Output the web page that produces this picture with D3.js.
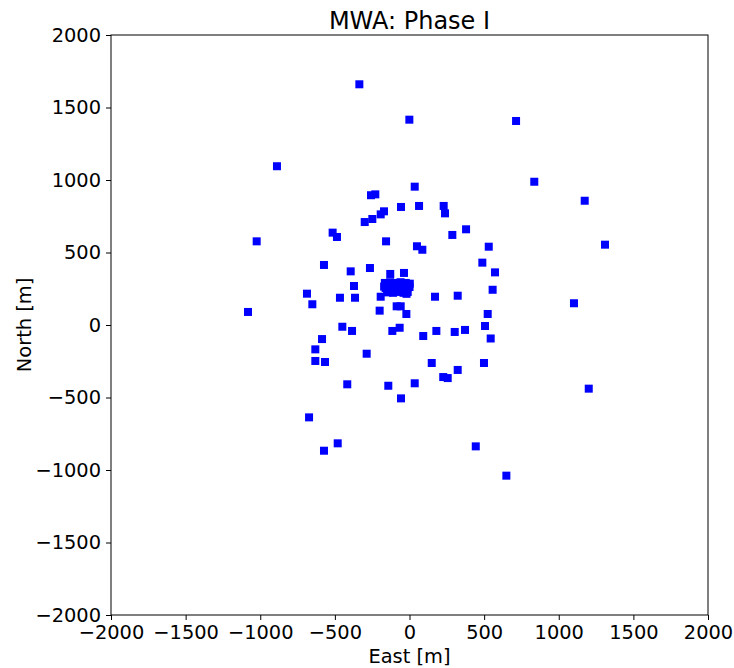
<!DOCTYPE html>
<html>
<head>
<meta charset="utf-8">
<script src="https://cdn.jsdelivr.net/npm/d3@7"></script>
<style>
  html, body { margin: 0; padding: 0; background: #fff; }
  svg { display: block; }
  text { font-family: "DejaVu Sans", sans-serif; fill: #000; }
</style>
</head>
<body>
<svg id="chart" width="734" height="668"></svg>
<script>
// MWA Phase I tile positions, metres relative to the array centre
const east = [
  -336, -1, 714, -888, 836, 1174, 35, -258, -229, -57,
  64, 229, 238, -193, -171, -300, -249, -515, -486, 379,
  287, -1024, 1310, -157, 50, 86, 531, 488, 573, -573,
  -394, -265, -129, -37, -372, -687, -466, -365, -193, 171,
  323, 557, -651, 1102, -1082, -86, -59, -200, -21, 524,
  506, -450, -385, -115, -66, 92, 180, 303, 372, 544,
  -586, -631, -631, -566, -287, 149, 323, 226, 256, 499,
  -417, -142, 35, -57, 1201, -673, -481, -573, 444, 649,
  // dense core
  -165, -130, -95, -60, -25, 2, -160, -120, -85, -50,
  -15, 0, -150, -110, -75, -40, -12, -135, -100, -65,
  -30, -140, -45, -170, -20
];
const north = [
  1660, 1416, 1407, 1095, 988, 857, 954, 895, 901, 814,
  821, 821, 770, 763, 784, 710, 731, 637, 607, 660,
  621, 577, 554, 577, 543, 519, 540, 430, 363, 414,
  370, 393, 352, 359, 269, 216, 188, 188, 195, 195,
  202, 243, 143, 150, 90, 129, 129, 99, 76, 76,
  -7, -12, -41, -41, -19, -76, -41, -48, -34, -93,
  -97, -168, -248, -255, -198, -262, -310, -359, -366, -262,
  -409, -419, -402, -506, -439, -637, -816, -867, -837, -1039,
  290, 295, 290, 295, 290, 285, 255, 260, 250, 258,
  255, 262, 225, 222, 228, 222, 228, 240, 275, 240,
  270, 270, 235, 265, 215
];
const tickValues = [-2000, -1500, -1000, -500, 0, 500, 1000, 1500, 2000];

const titleText = "MWA: Phase I";
const xLabel = "East [m]";
const yLabel = "North [m]";

const tiles = east.map((e, i) => ({ e, n: north[i] }));

const margin = { left: 111, right: 26, top: 35, bottom: 53 };
const width = 734, height = 668;
const svg = d3.select("#chart");

const x = d3.scaleLinear().domain([-2000, 2000]).range([margin.left, width - margin.right]);
const y = d3.scaleLinear().domain([-2000, 2000]).range([height - margin.bottom, margin.top]);

const fontSize = 19.4;
const markerSize = 8;

// tiles
svg.append("g")
  .selectAll("rect")
  .data(tiles)
  .join("rect")
  .attr("x", d => x(d.e) - markerSize / 2)
  .attr("y", d => y(d.n) - markerSize / 2)
  .attr("width", markerSize)
  .attr("height", markerSize)
  .attr("fill", "#0000ff");

// axes
const fmt = d => d < 0 ? "\u2212" + Math.abs(d) : String(d);
const xAxis = svg.append("g")
  .attr("transform", `translate(0,${height - margin.bottom})`)
  .call(d3.axisBottom(x).tickValues(tickValues).tickFormat(fmt).tickSize(5).tickPadding(5));
const yAxis = svg.append("g")
  .attr("transform", `translate(${margin.left},0)`)
  .call(d3.axisLeft(y).tickValues(tickValues).tickFormat(fmt).tickSize(5).tickPadding(5));

[xAxis, yAxis].forEach(g => {
  g.select(".domain").remove();
  g.selectAll("line").attr("stroke", "#000").attr("stroke-width", 1);
  g.selectAll("text").attr("font-size", fontSize).attr("font-family", "DejaVu Sans, sans-serif");
});

// frame
svg.append("rect")
  .attr("x", margin.left)
  .attr("y", margin.top)
  .attr("width", width - margin.left - margin.right)
  .attr("height", height - margin.top - margin.bottom)
  .attr("fill", "none")
  .attr("stroke", "#000")
  .attr("stroke-width", 1);

// title and labels
svg.append("text")
  .attr("x", (x(-2000) + x(2000)) / 2)
  .attr("y", margin.top - 6)
  .attr("text-anchor", "middle")
  .attr("font-size", 24)
  .text(titleText);

svg.append("text")
  .attr("x", (x(-2000) + x(2000)) / 2)
  .attr("y", height - 5)
  .attr("text-anchor", "middle")
  .attr("font-size", fontSize)
  .text(xLabel);

svg.append("text")
  .attr("transform", `translate(31,${(y(-2000) + y(2000)) / 2}) rotate(-90)`)
  .attr("text-anchor", "middle")
  .attr("font-size", fontSize)
  .text(yLabel);
</script>
</body>
</html>
